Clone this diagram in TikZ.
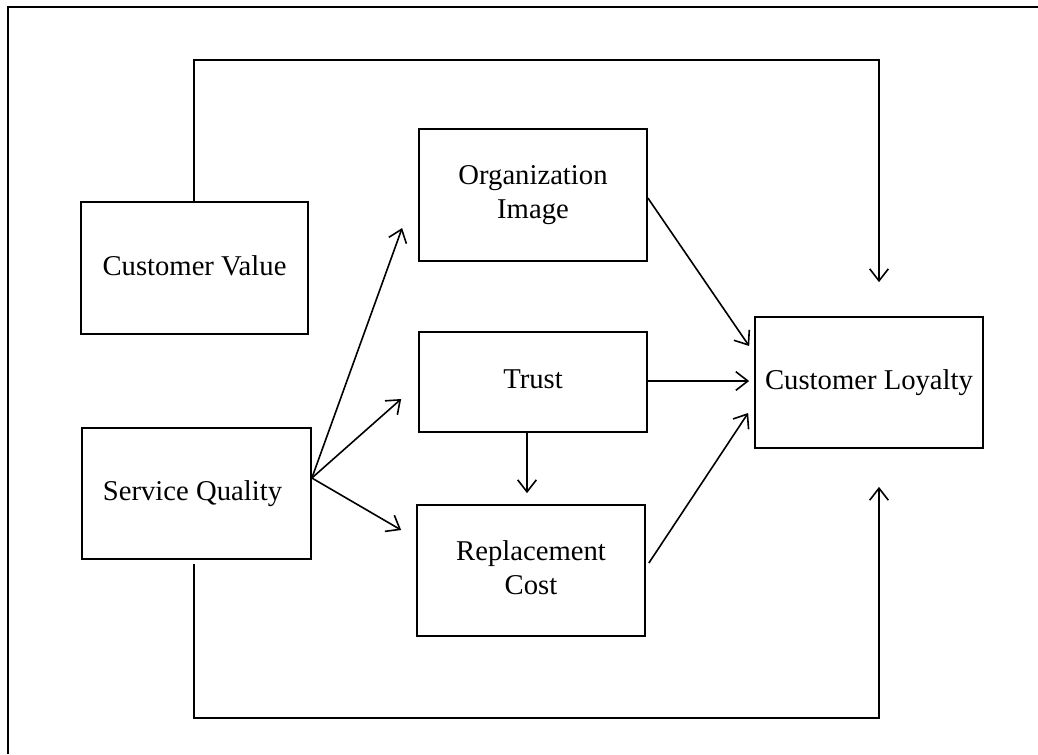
\documentclass[tikz,border=0pt]{standalone}
\usepackage{fontspec}
\setmainfont{Liberation Serif}
\usetikzlibrary{arrows.meta,calc}
\begin{document}
\begin{tikzpicture}[x=0.75pt,y=-0.75pt,
  box/.style={draw=black,line width=1.3pt,rectangle,inner sep=0pt,align=center,
    font=\fontsize{21.5}{26}\selectfont,minimum width=228*0.75pt},
  arr/.style={draw=black,line width=1.2pt,-{Straight Barb[length=9pt,width=14pt,line width=1.2pt]}},
  ln/.style={draw=black,line width=1.3pt}]
\useasboundingbox (0,0) rectangle (1038,754);
% outer frame (cut off at right and bottom)
\draw[ln] (8,754) -- (8,7) -- (1038,7);
% boxes
\node[box,minimum width=227*0.75pt,minimum height=132*0.75pt] (cv) at (194.5,268) {\raisebox{3pt}{Customer Value}};
\node[box,minimum width=229*0.75pt,minimum height=131*0.75pt] (sq) at (196.5,493.5) {\hspace*{-6pt}\raisebox{2pt}{Service Quality}};
\node[box,minimum height=132*0.75pt] (oi) at (533,195) {Organization\\Image};
\node[box,minimum height=100*0.75pt] (tr) at (533,382) {\raisebox{5pt}{Trust}};
\node[box,minimum height=131*0.75pt] (rc) at (531,570.5) {\raisebox{3pt}{\begin{tabular}{@{}c@{}}Replacement\\Cost\end{tabular}}};
\node[box,minimum height=131*0.75pt] (cl) at (869,382.5) {Customer Loyalty};
% long connectors
\draw[arr] ($(cv.north)+(-0.5,0)$) -- ++(0,-141) -| ($(cl.north)+(10,-34)$);
\draw[arr] ($(sq.south)+(-2.5,4)$) -- ++(0,154) -| ($(cl.south)+(10,38)$);
% fan from service quality
\draw[arr] ($(sq.east)+(0,-15.5)$) -- ($(oi.west)+(-16,33)$);
\draw[arr] ($(sq.east)+(0,-15.5)$) -- ($(tr.west)+(-17,17)$);
\draw[arr] ($(sq.east)+(0,-15.5)$) -- ($(rc.west)+(-15,-40.5)$);
% trust to replacement cost
\draw[arr] ($(tr.south)+(-6,0)$) -- ($(rc.north)+(-4,-11)$);
% to customer loyalty
\draw[arr] ($(oi.east)+(0,3)$) -- ($(cl.west)+(-5,-36.5)$);
\draw[arr] ($(tr.east)+(0,-1)$) -- ($(cl.west)+(-5,-1.5)$);
\draw[arr] ($(rc.east)+(3,-7.5)$) -- ($(cl.west)+(-6,30.5)$);
\end{tikzpicture}
\end{document}
